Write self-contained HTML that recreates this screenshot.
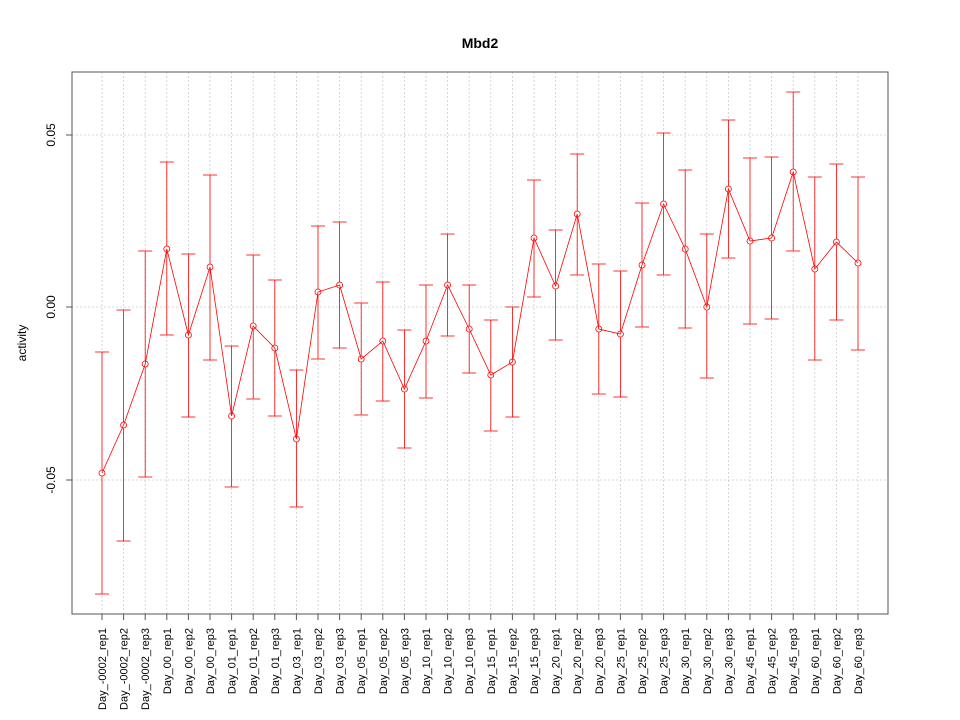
<!DOCTYPE html><html><head><style>body{margin:0;background:#fff}svg{display:block}text{font-family:"Liberation Sans",sans-serif}</style></head><body>
<svg id="s" width="960" height="720" xmlns="http://www.w3.org/2000/svg"></svg>
<script>
const d=[[473,594,352],[425,541,310],[364,477,251],[249,335,162],[335,417,254],[267,360,175],[416,487,346],[326,399,255],[348,416,280],[439,507,370],[292,359,226],[285,348,222],[359,415,303],[341,401,282],[389,448,330],[341,398,285],[285,336,234],[329,373,285],[375,431,320],[362,417,307],[238,297,180],[286,340,230],[214,275,154],[329,394,264],[334,397,271],[265,327,203],[204,275,133],[249,328,170],[307,378,234],[189,258,120],[241,324,158],[238,319,157],[172,251,92],[269,360,177],[242,320,164],[263,350,177]];
const days=["-0002","00","01","03","05","10","15","20","25","30","45","60"];
const labs=[];days.forEach(x=>{for(let r=1;r<=3;r++)labs.push("Day_"+x+"_rep"+r)});
let h='<text x="480" y="48" text-anchor="middle" font-size="14" font-weight="bold">Mbd2</text>';
const X=i=>102+i*21.6;
[135,307,480].forEach(y=>h+=`<line x1="72" x2="888" y1="${y}" y2="${y}" stroke="#ccc" stroke-width="0.8" stroke-dasharray="2,2"/>`);
d.forEach((v,i)=>{const x=X(i);h+=`<line x1="${x}" x2="${x}" y1="72" y2="614" stroke="#ccc" stroke-width="0.8" stroke-dasharray="2,2"/>`});
h+='<rect x="72" y="72" width="816" height="542" fill="none" stroke="#555"/>';
[[135,"0.05"],[307,"0.00"],[480,"-0.05"]].forEach(([y,t])=>{h+=`<line x1="66" x2="72" y1="${y}" y2="${y}" stroke="#555"/><text transform="translate(55,${y}) rotate(-90)" text-anchor="middle" font-size="12">${t}</text>`});
h+='<text transform="translate(26,343) rotate(-90)" text-anchor="middle" font-size="12">activity</text>';
let p="";
d.forEach((v,i)=>{const x=X(i);p+=(i?"L":"M")+x+","+v[0];
h+=`<g stroke="red" stroke-width="0.8"><line x1="${x}" x2="${x}" y1="${v[1]}" y2="${v[2]}"/><line x1="${x-7}" x2="${x+7}" y1="${v[1]}" y2="${v[1]}"/><line x1="${x-7}" x2="${x+7}" y1="${v[2]}" y2="${v[2]}"/><circle cx="${x}" cy="${v[0]}" r="3" fill="#fff"/></g>`;
h+=`<line x1="${x}" x2="${x}" y1="614" y2="620" stroke="#555"/><text transform="translate(${x+4},628) rotate(-90)" text-anchor="end" font-size="11">${labs[i]}</text>`;});
h+=`<path d="${p}" fill="none" stroke="red" stroke-width="0.8"/>`;
document.getElementById("s").innerHTML=h;
</script></body></html>
